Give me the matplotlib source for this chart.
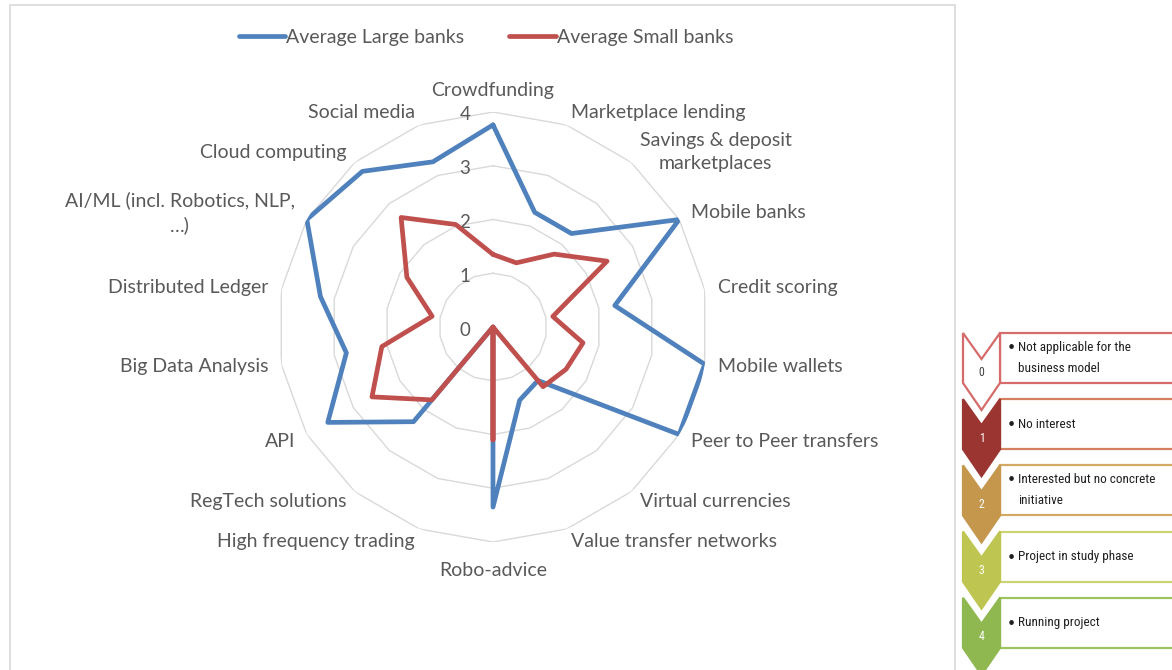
import numpy as np
import matplotlib
matplotlib.use('Agg')
import matplotlib.pyplot as plt
from matplotlib.patches import Polygon, Rectangle
from matplotlib import font_manager

# dados (escala 0-4)
categorias = ['Crowdfunding', 'Marketplace lending', 'Savings & deposit\nmarketplaces',
              'Mobile banks', 'Credit scoring', 'Mobile wallets', 'Peer to Peer transfers',
              'Virtual currencies', 'Value transfer networks', 'Robo-advice',
              'High frequency trading', 'RegTech solutions', 'API', 'Big Data Analysis',
              'Distributed Ledger', 'AI/ML (incl. Robotics, NLP,\n…)', 'Cloud computing',
              'Social media']
grandes_bancos = [3.76, 2.27, 2.27, 4.0, 2.3, 4.0, 4.0, 1.3, 1.45, 3.35,
                  0.0, 2.3, 3.55, 2.77, 3.26, 4.0, 3.78, 3.27]
pequenos_bancos = [1.35, 1.27, 1.77, 2.45, 1.13, 1.7, 1.57, 1.45, 0.0, 2.1,
                   0.0, 1.77, 2.6, 2.1, 1.15, 1.85, 2.66, 2.03]
aneis = [1, 2, 3, 4]
nomes_series = ['Average Large banks', 'Average Small banks']

niveis = ['0', '1', '2', '3', '4']
textos_niveis = [['Not applicable for the', 'business model'], ['No interest'],
                 ['Interested but no concrete', 'initiative'], ['Project in study phase'],
                 ['Running project']]
cores_chevron = ['#ffffff', '#9b3532', '#c4974d', '#bec550', '#8fb850']
cores_borda = ['#d56b6b', '#d4805e', '#d2aa63', '#cdd272', '#9cc35e']

AZUL = '#4f81bd'
VERMELHO = '#c0504d'
CINZA = '#595959'

plt.rcParams['font.family'] = ['Lato', 'DejaVu Sans']
disponiveis = {f.name for f in font_manager.fontManager.ttflist}
estreita = next((f for f in ['Liberation Sans Narrow', 'DejaVu Sans Condensed', 'Roboto Condensed', 'Lato']
                 if f in disponiveis), 'DejaVu Sans')

W, H = 1172, 670
fig = plt.figure(figsize=(W / 100, H / 100), dpi=100)

def fx(px):
    return px / W

def fy(py):
    return 1 - py / H

# moldura do grafico
fig.add_artist(Rectangle((fx(10), fy(690)), fx(955) - fx(10), fy(5) - fy(690),
                         transform=fig.transFigure, fill=False, edgecolor='#d9d9d9', lw=1.2))

cx, cy, raio = 493, 327, 215
ax = fig.add_axes([fx(cx - raio), fy(cy + raio), 2 * raio / W, 2 * raio / H], projection='polar')
ax.set_theta_offset(np.pi / 2)
ax.set_theta_direction(-1)
ax.set_ylim(0, 4)
ax.grid(False)
ax.set_xticks([])
ax.set_yticks([])
ax.spines['polar'].set_visible(False)
ax.patch.set_alpha(0)

n = len(categorias)
angulos = np.arange(n) * 2 * np.pi / n
ang_fechado = np.append(angulos, angulos[0])

for k in aneis:
    ax.plot(ang_fechado, [k] * (n + 1), color='#d9d9d9', lw=1, zorder=1)
for k in [0] + aneis:
    ax.annotate(str(k), (0, k), xytext=(-28, -3), textcoords='offset pixels',
                ha='center', va='center', fontsize=13.5, color=CINZA, annotation_clip=False)

l1, = ax.plot(ang_fechado, grandes_bancos + grandes_bancos[:1], color=AZUL, lw=3.4, zorder=3,
              solid_joinstyle='round', solid_capstyle='round')
l2, = ax.plot(ang_fechado, pequenos_bancos + pequenos_bancos[:1], color=VERMELHO, lw=3.4, zorder=4,
              solid_joinstyle='round', solid_capstyle='round')

for ang, nome in zip(angulos, categorias):
    s = np.sin(ang)
    r_txt = 4.25
    if abs(s) < 0.01:
        ha = 'center'
        if np.cos(ang) > 0:
            va = 'bottom'
        else:
            va = 'top'
            r_txt = 4.38
    else:
        ha = 'left' if s > 0 else 'right'
        va = 'center'
    ax.text(ang, r_txt, nome, ha=ha, va=va, multialignment='center', fontsize=14,
            color=CINZA, clip_on=False, linespacing=1.45)

fig.legend([l1, l2], nomes_series, loc='center', bbox_to_anchor=(fx(486), fy(37)),
           ncol=2, frameon=False, fontsize=14, handlelength=2.4, handletextpad=0.05,
           columnspacing=2.3, labelcolor=CINZA)

# legenda em chevrons a direita
x0, x1 = 963, 1000
xm = (x0 + x1) / 2
passo = 66.2
for i, (num, linhas, cf, cb) in enumerate(zip(niveis, textos_niveis, cores_chevron, cores_borda)):
    topo = 333 + passo * i
    fig.add_artist(Rectangle((fx(x1), fy(topo + 50)), fx(1185) - fx(x1), fy(topo) - fy(topo + 50),
                             transform=fig.transFigure, facecolor='white', edgecolor=cb, lw=1.6,
                             zorder=2))
    pts = [(x0, topo), (xm, topo + 26), (x1, topo), (x1, topo + 50), (xm, topo + 77), (x0, topo + 50)]
    fig.add_artist(Polygon([(fx(a), fy(b)) for a, b in pts], closed=True, transform=fig.transFigure,
                           facecolor=cf, edgecolor=cb if i == 0 else cf, lw=1.6, zorder=3))
    fig.text(fx(xm), fy(topo + 39), num, ha='center', va='center', fontsize=8.5,
             color='#404040' if i == 0 else 'white', family=estreita, zorder=4)
    if len(linhas) == 1:
        ys = [topo + 25]
    else:
        ys = [topo + 14, topo + 35]
    fig.text(fx(1008), fy(ys[0]), '•', ha='left', va='center', fontsize=9, color='#202020')
    for yy, t in zip(ys, linhas):
        fig.text(fx(1018), fy(yy), t, ha='left', va='center', fontsize=9.5, color='#202020',
                 family=estreita)

fig.savefig('out.png', dpi=100)
